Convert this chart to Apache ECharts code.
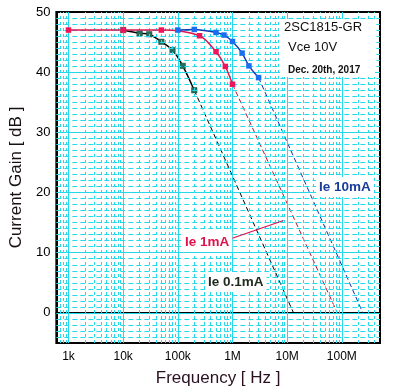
<!DOCTYPE html>
<html>
<head>
<meta charset="utf-8">
<script src="https://cdn.jsdelivr.net/npm/echarts@6/dist/echarts.min.js"></script>
<style>
html,body{margin:0;padding:0;background:#fff;}
#chart{width:404px;height:392px;}
</style>
</head>
<body>
<div id="chart"></div>
<script>
// ---- data ----
const freqIe01 = [10000, 20000, 30000, 50000, 80000, 123000, 200000];
const gainIe01 = [47, 46.45, 46.3, 45.05, 43.67, 41.05, 37.0];
const freqIe1 = [1000, 10000, 50000, 250000, 500000, 740000, 1000000];
const gainIe1 = [47, 47, 47, 46.05, 43.4, 40.95, 38.0];
const freqIe10 = [100000, 200000, 500000, 700000, 1000000, 1500000, 2000000, 3000000];
const gainIe10 = [47, 47.1, 46.6, 46.17, 45.1, 43.17, 41.05, 39.1];
// extrapolated asymptote lines (dashed)
const extFreqIe01 = [200000, 13100000];
const extGainIe01 = [37.0, 0];
const extFreqIe1 = [1000000, 83000000];
const extGainIe1 = [38.0, 0];
const extFreqIe10 = [3000000, 243000000];
const extGainIe10 = [39.1, 0];
// axes
const xMin = 600, xMax = 500000000;
const yMin = -5, yMax = 50;
const xTickValues = [1e3, 1e4, 1e5, 1e6, 1e7, 1e8];
const xTickLabels = ['1k', '10k', '100k', '1M', '10M', '100M'];
const yTickValues = [0, 10, 20, 30, 40, 50];
const xMinorMultipliers = [2, 3, 4, 5, 6, 7, 8, 9];

const FONT = '"Liberation Sans", Arial, sans-serif';
const GRID_C = '#25d9ea';

function pairs(xs, ys){ return xs.map((x,i)=>[x, ys[i]]); }

// grid lines (minor first, then major)
const gridLines = [];
for (let v = yMin; v < yMax; v++) {
  if (v % 10 !== 0 && v > yMin) gridLines.push({yAxis: v, lineStyle:{color:GRID_C, width:1, type:[5,3]}});
}
for (let e = 2; e <= 8; e++) {
  xMinorMultipliers.forEach(m => {
    const v = m * Math.pow(10, e);
    if (v > xMin && v < xMax) gridLines.push({xAxis: v, lineStyle:{color:GRID_C, width:1, type:[3,3]}});
  });
}
yTickValues.forEach(v => { if (v > yMin && v < yMax) gridLines.push({yAxis: v, lineStyle:{color:GRID_C, width:1, type:'solid'}}); });
xTickValues.forEach(v => gridLines.push({xAxis: v, lineStyle:{color:GRID_C, width:1, type:'solid'}}));

function fmtX(v){
  const e = Math.log10(v);
  for (let i = 0; i < xTickValues.length; i++) {
    if (Math.abs(Math.log10(xTickValues[i]) - e) < 1e-6) return xTickLabels[i];
  }
  return '';
}

const chart = echarts.init(document.getElementById('chart'), null, {renderer:'canvas'});
chart.setOption({
  animation: false,
  backgroundColor: '#fff',
  grid: {left: 50, right: 24, top: 12, bottom: 49, show: true, borderColor: '#000', borderWidth: 2, backgroundColor: '#fff'},
  xAxis: {
    type: 'log', logBase: 10, min: xMin, max: xMax,
    name: 'Frequency [ Hz ]', nameLocation: 'middle', nameGap: 27,
    nameTextStyle: {fontFamily: FONT, fontSize: 17, color: '#2a1020'},
    axisLine: {show: true, lineStyle: {color: '#000', width: 2}},
    axisTick: {show: false},
    splitLine: {show: false},
    minorSplitLine: {show: false},
    axisLabel: {fontFamily: FONT, fontSize: 12, color: '#000', margin: 8, interval: 0, formatter: fmtX, showMinLabel: true, showMaxLabel: true}
  },
  yAxis: {
    type: 'value', min: yMin, max: yMax,
    name: 'Current Gain [ dB ]', nameLocation: 'middle', nameGap: 29,
    nameTextStyle: {fontFamily: FONT, fontSize: 17, color: '#1a1010'},
    axisLine: {show: true, lineStyle: {color: '#000', width: 2}},
    axisTick: {show: false},
    splitLine: {show: false},
    axisLabel: {fontFamily: FONT, fontSize: 13, color: '#000', margin: 6,
      formatter: v => (yTickValues.indexOf(v) >= 0 ? String(v) : '')}
  },
  series: [
    {
      type: 'line', data: [], z: 1, silent: true,
      markLine: {silent: true, symbol: ['none','none'], label: {show: false}, animation: false, data: gridLines}
    },
    {
      name: 'Ie 0.1mA ext', type: 'line', data: pairs(extFreqIe01, extGainIe01), z: 3,
      showSymbol: false, lineStyle: {color: '#000', width: 1, type: [5,3]}
    },
    {
      name: 'Ie 1mA ext', type: 'line', data: pairs(extFreqIe1, extGainIe1), z: 3,
      showSymbol: false, lineStyle: {color: '#b01830', width: 1, type: [5,3]}
    },
    {
      name: 'Ie 10mA ext', type: 'line', data: pairs(extFreqIe10, extGainIe10), z: 3,
      showSymbol: false, lineStyle: {color: '#1a2aa0', width: 1, type: [5,3]}
    },
    {
      name: 'Ie 0.1mA', type: 'line', data: pairs(freqIe01, gainIe01), z: 4,
      smooth: 0.3, symbol: 'rect', symbolSize: 5.5, showAllSymbol: true,
      lineStyle: {color: '#000', width: 1.5},
      itemStyle: {color: '#23705e', borderColor: '#124a3c', borderWidth: 0.5}
    },
    {
      name: 'Ie 1mA', type: 'line', data: pairs(freqIe1, gainIe1), z: 5,
      smooth: 0.3, symbol: 'rect', symbolSize: 5.5, showAllSymbol: true,
      lineStyle: {color: '#e0164e', width: 1.5},
      itemStyle: {color: '#f0145a'}
    },
    {
      name: 'Ie 10mA', type: 'line', data: pairs(freqIe10, gainIe10), z: 6,
      smooth: 0.3, symbol: 'rect', symbolSize: 5.5, showAllSymbol: true,
      lineStyle: {color: '#1238b8', width: 1.5},
      itemStyle: {color: '#1a6ef0'}
    }
  ],
  graphic: [
    {type: 'rect', z: 100, shape: {x: 280, y: 19, width: 95, height: 58}, style: {fill: '#fff'}},
    {type: 'text', z: 101, x: 284, y: 27, style: {text: '2SC1815-GR', font: '13px ' + FONT, fill: '#111', align: 'left', verticalAlign: 'middle'}},
    {type: 'text', z: 101, x: 288, y: 47, style: {text: 'Vce 10V', font: '13px ' + FONT, fill: '#111', align: 'left', verticalAlign: 'middle'}},
    {type: 'text', z: 101, x: 288, y: 70, style: {text: 'Dec. 20th, 2017', font: 'bold 10px ' + FONT, fill: '#111', align: 'left', verticalAlign: 'middle'}},
    {type: 'text', z: 101, x: 316, y: 187, style: {text: 'Ie 10mA', font: 'bold 13.5px ' + FONT, fill: '#1a3d9c', align: 'left', verticalAlign: 'middle', backgroundColor: '#fff', padding: [3, 3]}},
    {type: 'line', z: 101, shape: {x1: 231.5, y1: 238.5, x2: 283.5, y2: 220.5}, style: {stroke: '#e0124d', lineWidth: 1.2}},
    {type: 'text', z: 101, x: 182, y: 242, style: {text: 'Ie 1mA', font: 'bold 13.5px ' + FONT, fill: '#e0124d', align: 'left', verticalAlign: 'middle', backgroundColor: '#fff', padding: [3, 3]}},
    {type: 'text', z: 101, x: 205, y: 282, style: {text: 'Ie 0.1mA', font: 'bold 13.5px ' + FONT, fill: '#1e2a1e', align: 'left', verticalAlign: 'middle', backgroundColor: '#fff', padding: [3, 3]}}
  ]
});
</script>
</body>
</html>
